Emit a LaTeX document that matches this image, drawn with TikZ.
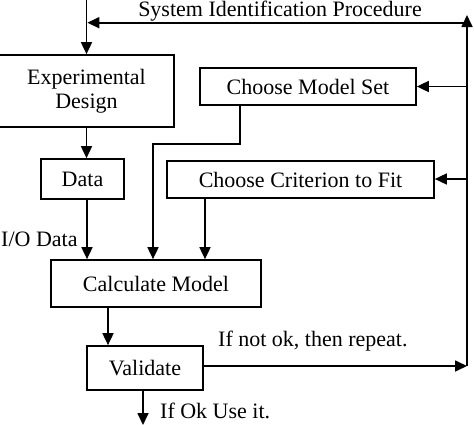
\documentclass[tikz,border=0pt]{standalone}
\usepackage{fontspec}
\setmainfont{Liberation Serif}
\usetikzlibrary{arrows.meta}
\begin{document}
\begin{tikzpicture}[x=1pt,y=-1pt,
  box/.style={draw,line width=1.7pt,inner sep=0pt,align=center,font=\fontsize{22}{24.5}\selectfont},
  lbl/.style={inner sep=0pt,font=\fontsize{22}{24.5}\selectfont},
  conn/.style={line width=1.7pt},
  arr/.style={line width=1.7pt,-{Triangle[length=12pt,width=11pt]}}]
\useasboundingbox (0,0) rectangle (474,424);
\node[box,minimum width=175pt,minimum height=72pt] (exp) at (86.5,91) {Experimental\\Design};
\node[box,minimum width=216pt,minimum height=37pt] (cms) at (308,86.5) {Choose Model Set};
\node[box,minimum width=83pt,minimum height=40pt] (data) at (82.5,179) {Data};
\node[box,minimum width=267pt,minimum height=37pt] (ccf) at (300.5,179.5) {Choose Criterion to Fit};
\node[box,minimum width=210pt,minimum height=47pt] (calc) at (156,283.5) {Calculate Model};
\node[box,minimum width=116pt,minimum height=44pt] (val) at (145,368) {Validate};
\node[lbl] (title) at (280,11) {System Identification Procedure};
\node[lbl,anchor=west] (io) at (1,239) {I/O Data};
\node[lbl,anchor=west] (nok) at (218,341) {If not ok, then repeat.};
\node[lbl,anchor=west] (ok) at (160,411) {If Ok Use it.};
\coordinate (topin) at (86.5,-2);
\coordinate (rb) at (467,366);
\coordinate (rt) at (467,15);
\coordinate (hr) at (467,22.7);
\coordinate (hl) at (86.5,22.7);
\coordinate (okend) at (143,425);
% connectors
\draw[arr] (topin) -- (exp.north);
\draw[arr] (hr) -- ([xshift=0.85pt]hl);
\draw[arr] (exp.south) -- (exp.south |- data.north);
\draw[arr] (data.south -| 87,0) -- (calc.north -| 87,0);
\draw[arr] (cms.south -| 240,0) -- (240,144) -- (153,144) -- (calc.north -| 153,0);
\draw[arr] (ccf.south -| 205,0) -- (calc.north -| 205,0);
\draw[arr] (calc.south -| 108,0) -- (val.north -| 108,0);
\draw[arr] (val.east |- rb) -- (rb);
\draw[arr] (rb) -- (rt);
\draw[arr] (cms.east -| rb) -- (cms.east);
\draw[arr] (467,179) -- (ccf.east |- 0,179);
\draw[arr] (val.south -| okend) -- (okend);
\end{tikzpicture}
\end{document}
